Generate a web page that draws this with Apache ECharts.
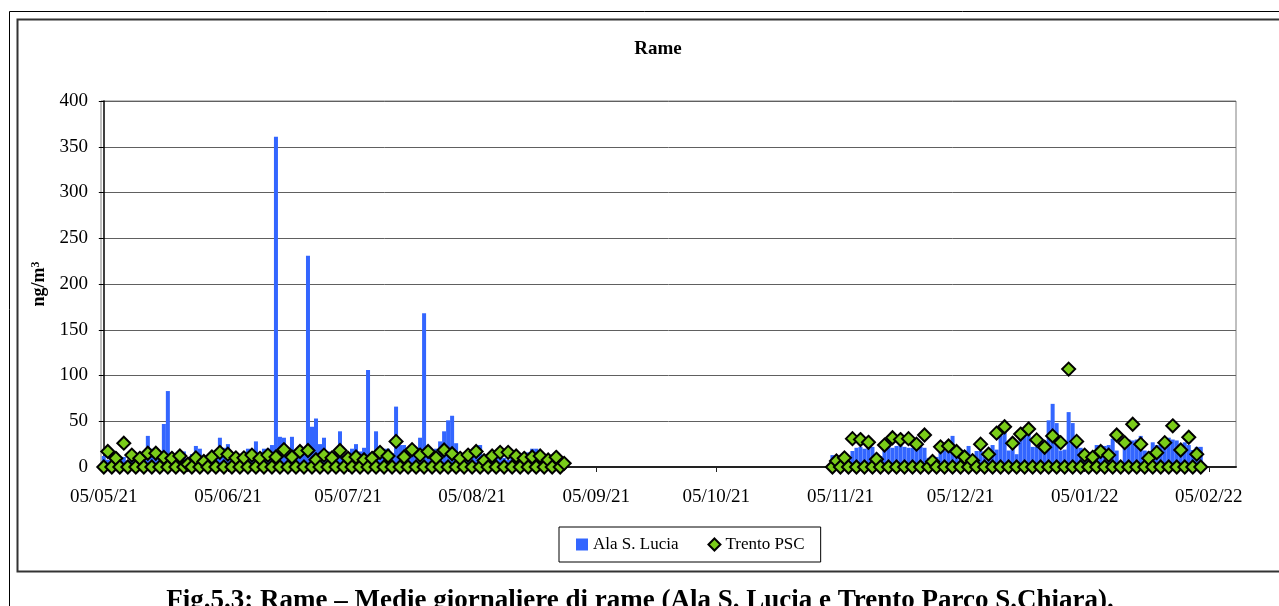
<!DOCTYPE html>
<html>
<head>
<meta charset="utf-8">
<script src="https://cdn.jsdelivr.net/npm/echarts@6/dist/echarts.min.js"></script>
<style>
  html, body { margin: 0; padding: 0; background: #fff; }
  #chart { width: 1279px; height: 606px; }
</style>
</head>
<body>
<div id="chart"></div>
<script>
// Daily copper means (ng/m3). Each block is a run of consecutive days from its start date.
const alaSummerStart = '2021-05-05';
const alaSummer = [
  12, 8, 10, 6, 9, 11, 7, 14, 10, 12,
  15, 34, 20, 15, 12, 47, 83, 14, 8, 10,
  17, 6, 14, 23, 20, 9, 12, 8, 15, 32,
  21, 25, 12, 8, 14, 10, 20, 16, 28, 12,
  20, 20, 24, 361, 33, 32, 14, 33, 15, 12,
  18, 231, 44, 53, 25, 32, 17, 14, 17, 39,
  12, 10, 20, 25, 17, 21, 106, 15, 39, 20,
  20, 20, 15, 66, 24, 24, 18, 16, 18, 32,
  168, 18, 16, 20, 28, 39, 51, 56, 26, 12,
  10, 14, 11, 12, 24, 10, 12, 9, 11, 13,
  10, 8, 12, 9, 11, 13, 16, 20, 20, 6
];

const alaWinterStart = '2021-11-03';
const alaWinter = [
  13, 8, 11, 10, 9, 17.5, 21, 22, 20, 21,
  22, 13, 12, 22, 24, 21, 23, 24, 22, 21,
  21, 20, 22, 21, 10, 3, 11, 17.5, 17.5, 24,
  34, 18, 18, 18, 23, 13, 17.5, 17.5, 11, 11,
  24, 19, 34, 38, 18, 24, 14, 31, 38, 38,
  22, 22, 21, 22, 51, 69, 48, 18, 19, 60,
  48, 30, 21, 11, 12, 10, 24, 24, 23, 24,
  31, 18, null, 30, 30, 29, 30, 34, 18, 17,
  27, 24, 24, 25, 32, 30, 29, 24, 27, 24,
  18.6, 22, 22
];

const trentoSummerStart = '2021-05-05';
const trentoSummer = [
  0, 17, 0, 9.5, 0, 26, 0, 13, 0, 9.5,
  0, 15, 0, 15, 0, 10.5, 0, 9.5, 0, 12,
  0, 3, 0, 10, 0, 6, 0, 11, 0, 16,
  0, 14, 0, 10, 0, 10, 0, 13, 0, 9.5,
  0, 13, 0, 11, 0, 19, 0, 11, 0, 17,
  0, 18, 0, 8, 0, 13, 0, 10, 0, 18,
  0, 9.5, 0, 11, 0, 8, 0, 9.5, 0, 16,
  0, 12, 0, 28, 0, 11, 0, 19, 0, 13,
  0, 17, 0, 10, 0, 18.6, 0, 14.5, 0, 9.5,
  0, 13, 0, 17, 0, 7, 0, 12, 0, 16,
  0, 16, 0, 12, 0, 9.5, 0, 11, 0, 12,
  0, 7.7, 0, 10.6, 0, 4
];

const trentoWinterStart = '2021-11-03';
const trentoWinter = [
  0, 6.6, 0, 10, 0, 31, 0, 30, 0, 27,
  0, 8.4, 0, 24, 0, 32, 0, 30, 0, 31,
  0, 25, 0, 35, 0, 6, 0, 22, 0, 23,
  0, 17, 0, 11, 0, 7, 0, 25, 0, 14,
  0, 37, 0, 44, 0, 26, 0, 36, 0, 41.6,
  0, 29.6, 0, 21.5, 0, 34, 0, 26.6, 0, 107,
  0, 28, 0, 13, 0, 10.6, 0, 17, 0, 13,
  0, 35, 0, 26.6, 0, 46.7, 0, 25, 0, 9.5,
  0, 15.7, 0, 26.6, 0, 45, 0, 18.6, 0, 32.5,
  0, 14, 0
];

// Monthly ticks on the date axis
const tickDates = ['2021-05-05', '2021-06-05', '2021-07-05', '2021-08-05', '2021-09-05',
                   '2021-10-05', '2021-11-05', '2021-12-05', '2022-01-05', '2022-02-05'];
const tickLabels = ['05/05/21', '05/06/21', '05/07/21', '05/08/21', '05/09/21',
                    '05/10/21', '05/11/21', '05/12/21', '05/01/22', '05/02/22'];

const yTicks = [0, 50, 100, 150, 200, 250, 300, 350, 400];

// Axis origin: days are counted from the first tick date
const DAY = 86400000;
function utc(s) {
  const p = s.split('-').map(Number);
  return Date.UTC(p[0], p[1] - 1, p[2]);
}
const origin = utc(tickDates[0]);
function dayOf(s) { return Math.round((utc(s) - origin) / DAY); }
function run(start, values) {
  const d0 = dayOf(start);
  return values.map((v, i) => [d0 + i, v]);
}

const alaData = run(alaSummerStart, alaSummer).concat(run(alaWinterStart, alaWinter))
  .filter(p => p[1] !== null);
const trentoData = run(trentoSummerStart, trentoSummer).concat(run(trentoWinterStart, trentoWinter));
const tickDays = tickDates.map(dayOf);

const serif = '"Liberation Serif", "Times New Roman", serif';

const chart = echarts.init(document.getElementById('chart'), null, { renderer: 'canvas' });

chart.setOption({
  backgroundColor: '#ffffff',
  animation: false,
  title: {
    text: 'Rame',
    left: 653,
    top: 35,
    textAlign: 'center',
    textStyle: { fontFamily: serif, fontSize: 19, fontWeight: 'bold', color: '#000' }
  },
  grid: {
    left: 101, right: 43, top: 101, bottom: 139,
    show: true, borderColor: '#808080', borderWidth: 1,
    outerBoundsMode: 'none'
  },
  legend: {
    left: 559, top: 527,
    itemGap: 29, itemWidth: 12, itemHeight: 12,
    padding: [9, 16, 9, 17],
    borderColor: '#000', borderWidth: 1, backgroundColor: '#fff',
    textStyle: { fontFamily: serif, fontSize: 17, color: '#000' },
    data: [
      { name: 'Ala S. Lucia', icon: 'rect' },
      { name: 'Trento PSC', icon: 'diamond' }
    ]
  },
  xAxis: {
    type: 'value',
    min: -0.7,
    max: 282.8,
    axisLine: { show: true, lineStyle: { color: '#222', width: 2 } },
    axisTick: { show: true, inside: false, length: 5, customValues: tickDays, lineStyle: { color: '#222' } },
    axisLabel: {
      customValues: tickDays,
      margin: 21,
      fontFamily: serif, fontSize: 19, color: '#000',
      formatter: v => {
        const i = tickDays.indexOf(Math.round(v));
        return i >= 0 ? tickLabels[i] : '';
      }
    },
    splitLine: { show: false }
  },
  yAxis: {
    type: 'value',
    min: 0, max: 400, interval: 50,
    name: '{n|ng/m}{s|3}',
    nameLocation: 'middle',
    nameRotate: 90,
    nameGap: 47,
    nameTextStyle: {
      rich: {
        n: { fontFamily: serif, fontSize: 18, fontWeight: 'bold', color: '#000' },
        s: { fontFamily: serif, fontSize: 12, fontWeight: 'bold', color: '#000', padding: [0, 0, 8, 0] }
      }
    },
    axisLine: { show: true, lineStyle: { color: '#000', width: 1.5 } },
    axisTick: { show: true, inside: false, length: 5, lineStyle: { color: '#000' } },
    axisLabel: {
      margin: 13, fontFamily: serif, fontSize: 19, color: '#000',
      customValues: yTicks
    },
    splitLine: { show: true, lineStyle: { color: '#606060', width: 1 } }
  },
  series: [
    {
      name: 'Ala S. Lucia',
      type: 'bar',
      data: alaData,
      barCategoryGap: '0%',
      itemStyle: { color: '#3366FF' },
      z: 2
    },
    {
      name: 'Trento PSC',
      type: 'scatter',
      data: trentoData,
      symbol: 'diamond',
      symbolSize: 13,
      clip: false,
      itemStyle: { color: '#7ACC19', borderColor: '#000', borderWidth: 2, opacity: 1 },
      z: 3
    }
  ],
  graphic: [
    {
      type: 'rect', silent: true, z: -1,
      shape: { x: 9.5, y: 11.5, width: 1400, height: 700 },
      style: { fill: 'none', stroke: '#000', lineWidth: 1 }
    },
    {
      type: 'rect', silent: true, z: -1,
      shape: { x: 17.5, y: 19.5, width: 1400, height: 552 },
      style: { fill: 'none', stroke: '#333', lineWidth: 2 }
    },
    {
      type: 'text', silent: true,
      x: 640, y: 601,
      style: {
        text: 'Fig.5.3: Rame – Medie giornaliere di rame (Ala S. Lucia e Trento Parco S.Chiara).',
        font: 'bold 27px ' + serif,
        fill: '#000',
        align: 'center',
        verticalAlign: 'middle'
      }
    }
  ]
});
</script>
</body>
</html>
